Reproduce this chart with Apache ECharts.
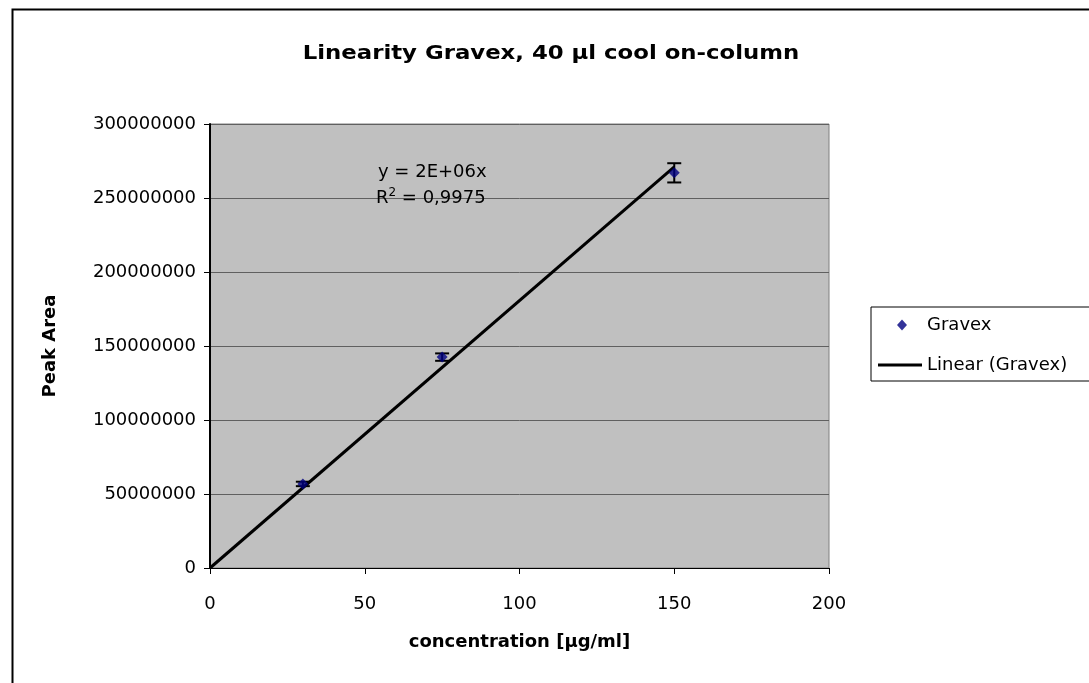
<!DOCTYPE html>
<html><head><meta charset="utf-8">
<script src="https://cdn.jsdelivr.net/npm/echarts@6/dist/echarts.min.js"></script>
<style>html,body{margin:0;padding:0;background:#fff}#c{width:1089px;height:683px}</style>
</head><body><div id="c"></div>
<script>
const concentrations = [30, 75, 150];
const peakAreas = [56800000, 142500000, 267000000];
const errors = [1500000, 2500000, 6500000];
const yTicks = [0, 50000000, 100000000, 150000000, 200000000, 250000000, 300000000];
const xTicks = [0, 50, 100, 150, 200];
const titleText = 'Linearity Gravex, 40 µl cool on-column';

// linear trendline through origin (least squares from the data)
let sxy = 0, sxx = 0;
concentrations.forEach((x, i) => { sxy += x * peakAreas[i]; sxx += x * x; });
const slope = sxy / sxx;
const xMaxData = Math.max(...concentrations);
const trend = [[0, 0], [xMaxData, slope * xMaxData]];

const F = 'DejaVu Sans, Liberation Sans, sans-serif';
const chart = echarts.init(document.getElementById('c'));
chart.setOption({
  animation: false,
  backgroundColor: '#fff',
  grid: { left: 210, right: 260, top: 124, bottom: 115, show: true,
    backgroundColor: '#c0c0c0', borderColor: '#808080', borderWidth: 1 },
  legend: {
    orient: 'vertical', left: 871, top: 307,
    padding: [8, 30, 6, 7], itemGap: 20,
    borderColor: '#000', borderWidth: 1,
    itemWidth: 44, itemHeight: 12,
    textStyle: { fontFamily: F, fontSize: 18, lineHeight: 20, color: '#000' },
    data: [
      { name: 'Gravex', icon: 'path://M0,0 M44,12 M19,6 L24,0.5 L29,6 L24,11.5 Z', itemStyle: { color: '#000080' } },
      { name: 'Linear (Gravex)', icon: 'path://M0,0 M44,12 M0,4.5 L44,4.5 L44,7.5 L0,7.5 Z', itemStyle: { color: '#000' } }
    ]
  },
  xAxis: {
    type: 'value', min: 0, max: 200, interval: 50,
    name: 'concentration [µg/ml]', nameLocation: 'middle', nameGap: 65,
    nameTextStyle: { fontFamily: F, fontSize: 18, fontWeight: 'bold', color: '#000' },
    axisLine: { show: true, lineStyle: { color: '#000', width: 1 } },
    axisTick: { show: true, length: 6, lineStyle: { color: '#000' } },
    axisLabel: { fontFamily: F, fontSize: 18, color: '#000', margin: 27,
      formatter: v => xTicks.includes(v) ? String(v) : '' },
    splitLine: { show: false }
  },
  yAxis: {
    type: 'value', min: 0, max: 300000000, interval: 50000000,
    name: 'Peak Area', nameLocation: 'middle', nameGap: 151, nameRotate: 90,
    nameTextStyle: { fontFamily: F, fontSize: 18, fontWeight: 'bold', color: '#000' },
    axisLine: { show: true, lineStyle: { color: '#000', width: 2 } },
    axisTick: { show: true, length: 6, lineStyle: { color: '#000' } },
    axisLabel: { fontFamily: F, fontSize: 18, color: '#000', margin: 14,
      formatter: v => yTicks.includes(v) ? String(v) : '' },
    splitLine: { show: true, lineStyle: { color: '#606060', width: 1 } }
  },
  series: [
    {
      name: 'Linear (Gravex)', type: 'line', data: trend, symbol: 'none',
      lineStyle: { color: '#000', width: 3 }, itemStyle: { color: '#000' }, z: 3
    },
    {
      name: 'Gravex-err', type: 'custom', z: 4,
      data: concentrations.map((x, i) => [x, peakAreas[i] - errors[i], peakAreas[i] + errors[i]]),
      renderItem: (params, api) => {
        const lo = api.coord([api.value(0), api.value(1)]);
        const hi = api.coord([api.value(0), api.value(2)]);
        const w = 7;
        const st = { stroke: '#000', lineWidth: 2 };
        return { type: 'group', children: [
          { type: 'line', shape: { x1: lo[0], y1: lo[1], x2: hi[0], y2: hi[1] }, style: st },
          { type: 'line', shape: { x1: lo[0] - w, y1: lo[1], x2: lo[0] + w, y2: lo[1] }, style: st },
          { type: 'line', shape: { x1: hi[0] - w, y1: hi[1], x2: hi[0] + w, y2: hi[1] }, style: st }
        ]};
      }
    },
    {
      name: 'Gravex', type: 'scatter', symbol: 'diamond', symbolSize: 11, z: 5,
      data: concentrations.map((x, i) => [x, peakAreas[i]]),
      itemStyle: { color: '#000080' }
    }
  ],
  graphic: [
    { type: 'rect', left: 10, top: 7, shape: { width: 1200, height: 800 },
      style: { fill: 'none', stroke: '#000', lineWidth: 2 }, silent: true, z: -10 },
    { type: 'text', x: 551, y: 54, scaleX: 1.2, z: 10,
      style: { text: titleText, fontFamily: F, fontSize: 19, fontWeight: 'bold', fill: '#000',
        align: 'center', verticalAlign: 'middle' } },
    { type: 'text', left: 378, top: 163, z: 10,
      style: { text: 'y = 2E+06x', fontFamily: F, fontSize: 18, fill: '#000' } },
    { type: 'text', left: 376, top: 187, z: 10,
      style: { text: '{n|R}{s|2}{n| = 0,9975}', fontFamily: F, fill: '#000',
        rich: { n: { fontFamily: F, fontSize: 18, fill: '#000', verticalAlign: 'bottom' },
                s: { fontFamily: F, fontSize: 12, fill: '#000', verticalAlign: 'top', padding: [0, 0, 8, 0] } } } }
  ]
});
</script></body></html>
